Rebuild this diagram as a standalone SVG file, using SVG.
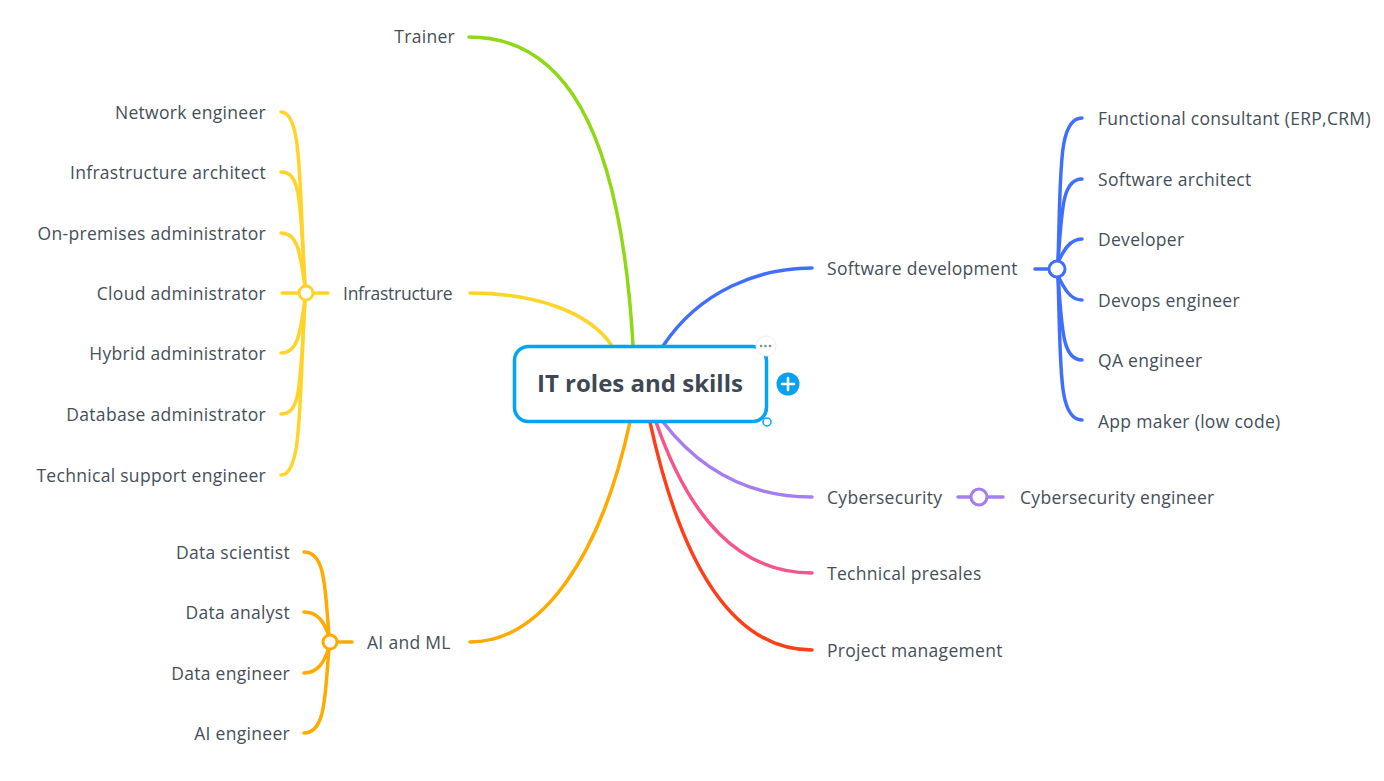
<svg xmlns="http://www.w3.org/2000/svg" width="1384" height="781" viewBox="0 0 1384 781">
<style>
.t{font-family:"Open Sans","Liberation Sans",sans-serif;font-size:17.5px;letter-spacing:0.3px;fill:#444f5a}
.e{text-anchor:end}
.c{fill:none;stroke-width:3.5;stroke-linecap:round}
.hub{fill:#fff;stroke-width:3}
.y{stroke:#ffd42a}.o{stroke:#ffaa00}.b{stroke:#416ffd}.p{stroke:#a67df0}
</style>
<rect width="1384" height="781" fill="#fff"/>
<g id="connectors">
<path class="c" stroke="#8fd815" d="M633,345 C620,120 560,37 469,37"/>
<path class="c y" d="M612,346 C590,312 535,293 470,293"/>
<path class="c b" d="M663,346 C700,290 760,268 812,268"/>
<path class="c o" d="M630,422 C600,560 540,642 470,642"/>
<path class="c p" d="M663,422 C700,470 750,497 812,497"/>
<path class="c" stroke="#f6558a" d="M656,422 C690,520 740,573 812,573"/>
<path class="c" stroke="#ff3e17" d="M650,422 C680,560 730,650 812,650"/>
<!-- infrastructure bracket -->
<path class="c y" d="M282,293 H328"/>
<path class="c y" d="M305,287 C299,180 302,112 281,112"/>
<path class="c y" d="M305,287 C300,200 301,172 281,172"/>
<path class="c y" d="M305,287 C300,250 297,233 281,233"/>
<path class="c y" d="M305,299 C300,336 297,353 281,353"/>
<path class="c y" d="M305,299 C300,386 301,414 281,414"/>
<path class="c y" d="M305,299 C299,406 302,475 281,475"/>
<!-- AI bracket -->
<path class="c o" d="M330,642 H352"/>
<path class="c o" d="M329,636 C325,590 326,552 304,552"/>
<path class="c o" d="M329,636 C324,622 318,612 304,612"/>
<path class="c o" d="M329,648 C324,662 318,673 304,673"/>
<path class="c o" d="M329,648 C325,694 326,733 304,733"/>
<!-- software bracket -->
<path class="c b" d="M1035,269 H1057"/>
<path class="c b" d="M1058,262 C1061,170 1058,118 1082,118"/>
<path class="c b" d="M1058,262 C1062,210 1062,179 1082,179"/>
<path class="c b" d="M1058,262 C1064,250 1070,239 1082,239"/>
<path class="c b" d="M1058,276 C1064,288 1070,300 1082,300"/>
<path class="c b" d="M1058,276 C1062,328 1062,360 1082,360"/>
<path class="c b" d="M1058,276 C1061,368 1058,420 1082,420"/>
<!-- cyber -->
<path class="c p" d="M958,497 H1003"/>
</g>
<g id="center">
<rect x="514.5" y="346.5" width="252" height="75" rx="14" fill="#fff" stroke="#03a3f5" stroke-width="3.5"/>
<text x="640" y="392" text-anchor="middle" style="font-family:'Open Sans','Liberation Sans',sans-serif;font-size:24px;font-weight:bold;fill:#3d4853">IT roles and skills</text>
<circle cx="766" cy="346" r="10" fill="#fff" stroke="#eee" stroke-width="1"/>
<circle cx="761" cy="346" r="1.3" fill="#888"/><circle cx="765.5" cy="346" r="1.3" fill="#888"/><circle cx="770" cy="346" r="1.3" fill="#888"/>
<circle cx="767" cy="422" r="4" fill="#fff" stroke="#03a3f5" stroke-width="1.5"/>
<circle cx="788" cy="384" r="11.5" fill="#0aa1f2"/>
<path d="M782,384 H794 M788,378 V390" stroke="#fff" stroke-width="2.5" stroke-linecap="round"/>
</g>
<g id="trainer"><text class="t e" x="455" y="43">Trainer</text></g>
<g id="infrastructure">
<circle class="hub y" cx="306" cy="293" r="7"/>
<text class="t" x="343" y="300" textLength="110">Infrastructure</text>
</g>
<g id="infra-children">
<text class="t e" x="266" y="119">Network engineer</text>
<text class="t e" x="266" y="179">Infrastructure architect</text>
<text class="t e" x="266" y="240">On-premises administrator</text>
<text class="t e" x="266" y="300">Cloud administrator</text>
<text class="t e" x="266" y="360">Hybrid administrator</text>
<text class="t e" x="266" y="421">Database administrator</text>
<text class="t e" x="266" y="482">Technical support engineer</text>
</g>
<g id="ai-ml">
<circle class="hub o" cx="330" cy="642" r="7"/>
<text class="t" x="367" y="649">AI and ML</text>
</g>
<g id="ai-children">
<text class="t e" x="290" y="559">Data scientist</text>
<text class="t e" x="290" y="619">Data analyst</text>
<text class="t e" x="290" y="680">Data engineer</text>
<text class="t e" x="290" y="740">AI engineer</text>
</g>
<g id="software">
<circle class="hub b" cx="1057" cy="269" r="8"/>
<text class="t" x="827" y="275">Software development</text>
</g>
<g id="software-children">
<text class="t" x="1098" y="125">Functional consultant (ERP,CRM)</text>
<text class="t" x="1098" y="186">Software architect</text>
<text class="t" x="1098" y="246">Developer</text>
<text class="t" x="1098" y="307">Devops engineer</text>
<text class="t" x="1098" y="367">QA engineer</text>
<text class="t" x="1098" y="428">App maker (low code)</text>
</g>
<g id="cybersecurity">
<circle class="hub p" cx="979" cy="497" r="8"/>
<text class="t" x="827" y="504">Cybersecurity</text>
</g>
<g id="cyber-engineer"><text class="t" x="1020" y="504">Cybersecurity engineer</text></g>
<g id="presales"><text class="t" x="827" y="580">Technical presales</text></g>
<g id="project"><text class="t" x="827" y="657">Project management</text></g>
</svg>
